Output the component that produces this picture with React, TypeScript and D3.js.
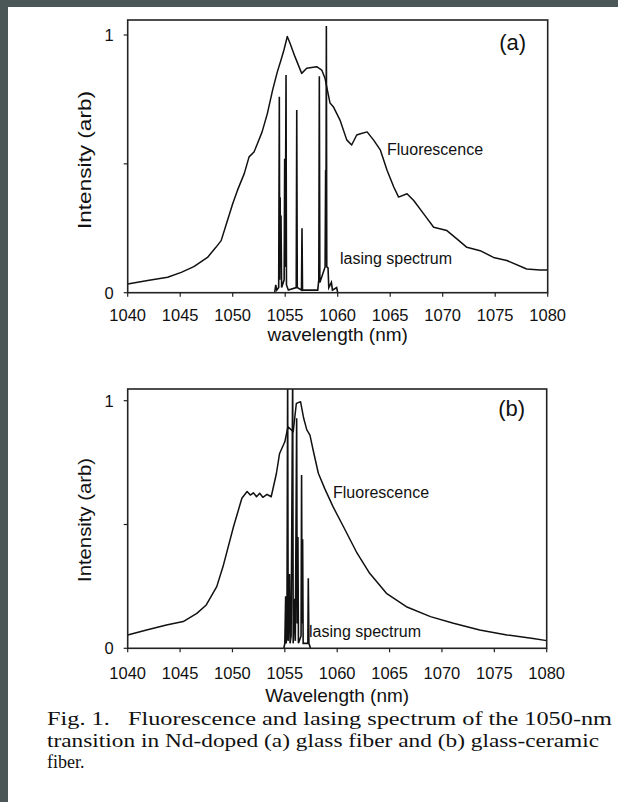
import React from "react";
import * as d3 from "d3";

// wavelength (nm) vs normalised intensity
const wavelengthTicks = [1040, 1045, 1050, 1055, 1060, 1065, 1070, 1075, 1080];
const intensityTicks = [0, 0.5, 1];
const intensityLabels = ["0", "", "1"];

const fluorescenceA: [number, number][] = [
  [1040, 0.034], [1041.9, 0.047], [1043.8, 0.06], [1045.1, 0.079], [1046.3, 0.101],
  [1047.6, 0.137], [1048.4, 0.176], [1048.9, 0.202], [1049.5, 0.28], [1050.0, 0.345],
  [1050.45, 0.397], [1051.1, 0.462], [1051.56, 0.527], [1052.03, 0.546], [1052.35, 0.578],
  [1052.8, 0.624], [1053.3, 0.695], [1053.8, 0.786], [1054.25, 0.857], [1054.6, 0.903],
  [1054.88, 0.942], [1055.2, 0.994], [1055.46, 0.968], [1055.93, 0.916], [1056.57, 0.851],
  [1057.05, 0.871], [1058.0, 0.877], [1058.48, 0.864], [1058.79, 0.832], [1059.27, 0.736],
  [1059.58, 0.722], [1060.22, 0.67], [1060.86, 0.593], [1061.33, 0.573], [1061.81, 0.612],
  [1062.17, 0.617], [1062.8, 0.624], [1063.44, 0.591], [1064.07, 0.553], [1064.7, 0.475],
  [1065.34, 0.41], [1065.8, 0.371], [1066.6, 0.384], [1067.24, 0.358], [1068.19, 0.306],
  [1069.14, 0.254], [1070.4, 0.241], [1071.35, 0.209], [1072.3, 0.176], [1073.57, 0.163],
  [1074.84, 0.137], [1076.1, 0.125], [1078, 0.092], [1079.27, 0.088], [1080, 0.088],
];

const lasingA: [number, number][] = [
  [1054.0, 0], [1054.1, 0.03], [1054.2, 0.01], [1054.38, 0.02], [1054.44, 0.76],
  [1054.48, 0.05], [1054.52, 0.37], [1054.56, 0.1], [1054.6, 0.3], [1054.66, 0.02],
  [1054.9, 0.05], [1054.95, 0.52], [1055.0, 0.1], [1055.08, 0.845], [1055.12, 0.03],
  [1055.3, 0.01], [1056.05, 0.02], [1056.1, 0.709], [1056.15, 0.02], [1056.55, 0.01],
  [1056.6, 0.25], [1056.65, 0.01], [1058.1, 0.01], [1058.2, 0.05], [1058.25, 0.84],
  [1058.3, 0.04], [1058.8, 0.1], [1058.85, 0.476], [1058.88, 0.2], [1058.92, 1.035],
  [1058.96, 0.1], [1059.08, 0.096], [1059.15, 0.02], [1059.4, 0.04], [1059.5, 0.01],
  [1059.9, 0.02], [1060.0, 0],
];

const fluorescenceB: [number, number][] = [
  [1040, 0.054], [1041.8, 0.074], [1043.7, 0.094], [1045.3, 0.108], [1046.6, 0.141],
  [1047.5, 0.175], [1048.5, 0.249], [1049.1, 0.33], [1050.1, 0.491], [1050.9, 0.606],
  [1051.4, 0.633], [1051.7, 0.619], [1052.0, 0.628], [1052.3, 0.612], [1052.6, 0.626],
  [1052.9, 0.61], [1053.3, 0.622], [1053.7, 0.612], [1054.2, 0.707], [1054.5, 0.787],
  [1055.0, 0.834], [1055.3, 0.895], [1055.8, 0.875], [1056.1, 0.989], [1056.5, 0.996],
  [1056.8, 0.929], [1057.1, 0.882], [1057.4, 0.861], [1057.7, 0.801], [1058.2, 0.707],
  [1058.8, 0.646], [1059.6, 0.572], [1060.6, 0.491], [1061.9, 0.384], [1063.1, 0.303],
  [1064.7, 0.222], [1066.6, 0.168], [1068.9, 0.128], [1071.1, 0.101], [1073.6, 0.074],
  [1076.2, 0.054], [1078.7, 0.04], [1080, 0.031],
];

const lasingB: [number, number][] = [
  [1054.9, 0], [1055.0, 0.02], [1055.08, 0.21], [1055.12, 0.02], [1055.2, 0.05],
  [1055.27, 1.1], [1055.32, 0.03], [1055.45, 0.3], [1055.5, 0.02], [1055.6, 0.05],
  [1055.75, 1.1], [1055.8, 0.02], [1055.95, 0.2], [1056.0, 0.03], [1056.13, 0.929],
  [1056.18, 0.1], [1056.25, 0.45], [1056.3, 0.02], [1056.55, 0.05], [1056.6, 0.7],
  [1056.65, 0.1], [1056.7, 0.44], [1056.75, 0.02], [1057.2, 0.02], [1057.24, 0.283],
  [1057.3, 0.02], [1057.45, 0],
];

const sans = "'Liberation Sans', Arial, Helvetica, sans-serif";
const serif = "'Liberation Serif', 'Times New Roman', serif";

type PanelProps = {
  id: string;
  box: { left: number; right: number; top: number; bottom: number; one: number };
  fluorescence: [number, number][];
  lasing: [number, number][];
  tag: string;
  xTitle: string;
  xTitleY: number;
  tickLabelY: number;
  yTitle: { x: number; y: number; len: number };
  fluoLabel: { x: number; y: number };
  laseLabel: { x: number; y: number };
};

const Panel = ({ id, box, fluorescence, lasing, tag, xTitle, xTitleY, tickLabelY, yTitle, fluoLabel, laseLabel }: PanelProps) => {
  const x = d3.scaleLinear().domain([1040, 1080]).range([box.left, box.right]);
  const y = d3.scaleLinear().domain([0, 1]).range([box.bottom, box.one]);
  const line = d3
    .line<[number, number]>()
    .x((d) => x(d[0]))
    .y((d) => y(d[1]));

  return (
    <g>
      <defs>
        <clipPath id={id}>
          <rect x={box.left} y={box.top} width={box.right - box.left} height={box.bottom - box.top} />
        </clipPath>
      </defs>
      <g clipPath={`url(#${id})`} fill="none" stroke="#111">
        <path d={line(fluorescence) || ""} strokeWidth={1.5} strokeLinejoin="round" />
        <path d={line(lasing) || ""} strokeWidth={1.6} />
      </g>
      <rect
        x={box.left}
        y={box.top}
        width={box.right - box.left}
        height={box.bottom - box.top}
        fill="none"
        stroke="#222"
        strokeWidth={1.6}
      />
      {wavelengthTicks.map((t) => (
        <g key={t}>
          <line x1={x(t)} x2={x(t)} y1={box.bottom} y2={box.bottom + 4} stroke="#222" strokeWidth={1.2} />
          <text x={x(t)} y={tickLabelY} textAnchor="middle" fontSize={16.5} fontFamily={sans} fill="#111">
            {t}
          </text>
        </g>
      ))}
      {intensityTicks.map((t, i) => (
        <g key={t}>
          <line x1={box.left - 4} x2={box.left} y1={y(t)} y2={y(t)} stroke="#222" strokeWidth={1.2} />
          <text x={box.left - 14} y={y(t) + 6} textAnchor="end" fontSize={16.5} fontFamily={sans} fill="#111">
            {intensityLabels[i]}
          </text>
        </g>
      ))}
      <text x={(box.left + box.right) / 2} y={xTitleY} textAnchor="middle" fontSize={19} fontFamily={sans} fill="#111">
        {xTitle}
      </text>
      <text
        transform={`translate(${yTitle.x},${yTitle.y}) rotate(-90)`}
        textAnchor="middle"
        fontSize={19}
        fontFamily={sans}
        fill="#111"
        textLength={yTitle.len}
        lengthAdjust="spacingAndGlyphs"
      >
        Intensity (arb)
      </text>
      <text x={box.right - 35} y={box.one + 15} textAnchor="middle" fontSize={22} fontFamily={sans} fill="#111">
        {tag}
      </text>
      <text x={fluoLabel.x} y={fluoLabel.y} fontSize={16} fontFamily={sans} fill="#111">
        Fluorescence
      </text>
      <text x={laseLabel.x} y={laseLabel.y} fontSize={16} fontFamily={sans} fill="#111">
        lasing spectrum
      </text>
    </g>
  );
};

const App = () => {
  return (
    <svg width={618} height={802} style={{ position: "absolute", left: 0, top: 0 }}>
      <rect x={0} y={0} width={618} height={802} fill="#4b5757" />
      <rect x={8} y={7} width={610} height={795} fill="#ffffff" />
      <Panel
        id="clipA"
        box={{ left: 127.7, right: 547.7, top: 20, bottom: 292.7, one: 35 }}
        fluorescence={fluorescenceA}
        lasing={lasingA}
        tag="(a)"
        xTitle="wavelength (nm)"
        xTitleY={341}
        tickLabelY={321}
        yTitle={{ x: 91, y: 160, len: 138 }}
        fluoLabel={{ x: 387, y: 155 }}
        laseLabel={{ x: 340, y: 264 }}
      />
      <Panel
        id="clipB"
        box={{ left: 127.7, right: 546.7, top: 389, bottom: 648.3, one: 400.7 }}
        fluorescence={fluorescenceB}
        lasing={lasingB}
        tag="(b)"
        xTitle="Wavelength (nm)"
        xTitleY={702}
        tickLabelY={679}
        yTitle={{ x: 91, y: 520, len: 124 }}
        fluoLabel={{ x: 333, y: 498 }}
        laseLabel={{ x: 309, y: 637 }}
      />
      <g fontFamily={serif} fontSize={18} fill="#111">
        <text x={47} y={725} textLength={565} lengthAdjust="spacingAndGlyphs">
          Fig. 1.{"\u00a0\u00a0\u00a0"}Fluorescence and lasing spectrum of the 1050-nm
        </text>
        <text x={47} y={747} textLength={552} lengthAdjust="spacingAndGlyphs">
          transition in Nd-doped (a) glass fiber and (b) glass-ceramic
        </text>
        <text x={47} y={768}>
          fiber.
        </text>
      </g>
    </svg>
  );
};

export default App;
